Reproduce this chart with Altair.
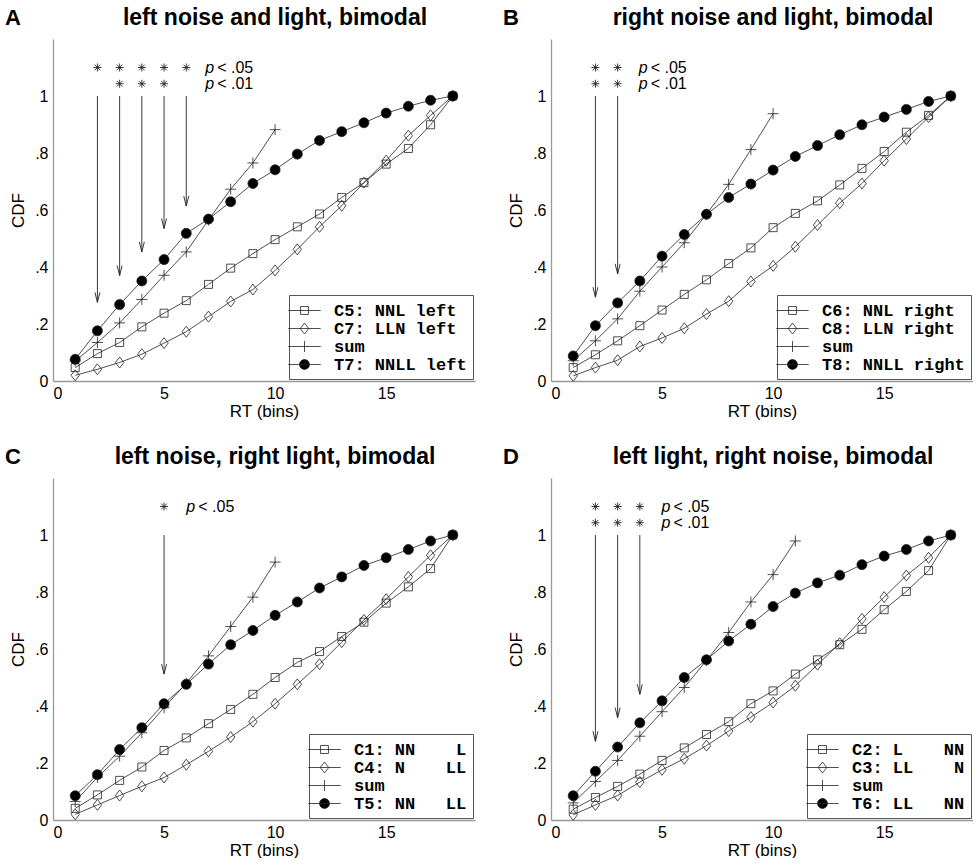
import altair as alt
import pandas as pd

BINS = list(range(1, 19))

# ---------------- data ----------------
A_LETTER, A_TITLE = "A", "left noise and light, bimodal"
A_LABELS = ["C5: NNL left", "C7: LLN left", "sum", "T7: NNLL left"]
A_C1 = [0.047, 0.096, 0.135, 0.19, 0.238, 0.282, 0.339, 0.396, 0.447, 0.496, 0.541, 0.586, 0.644, 0.696, 0.761, 0.816, 0.899, 1.0]
A_C2 = [0.02, 0.041, 0.065, 0.094, 0.133, 0.173, 0.226, 0.279, 0.321, 0.388, 0.462, 0.541, 0.615, 0.696, 0.773, 0.861, 0.932, 1.0]
A_SUM = [0.07, 0.135, 0.204, 0.286, 0.371, 0.453, 0.565, 0.673, 0.765, 0.882]
A_T = [0.076, 0.176, 0.268, 0.351, 0.426, 0.518, 0.568, 0.629, 0.693, 0.741, 0.796, 0.844, 0.875, 0.906, 0.94, 0.964, 0.985, 1.0]
A_ARROW_X = [2, 3, 4, 5, 6]
A_ARROW_TIP = [0.276, 0.37, 0.453, 0.535, 0.614]
A_SIG05 = [2, 3, 4, 5, 6]
A_SIG01 = [3, 4, 5]
A_PTEXT_X = 6.85

B_LETTER, B_TITLE = "B", "right noise and light, bimodal"
B_LABELS = ["C6: NNL right", "C8: LLN right", "sum", "T8: NNLL right"]
B_C1 = [0.047, 0.092, 0.141, 0.194, 0.249, 0.304, 0.355, 0.412, 0.467, 0.538, 0.588, 0.632, 0.688, 0.746, 0.805, 0.873, 0.932, 1.0]
B_C2 = [0.018, 0.047, 0.073, 0.121, 0.151, 0.185, 0.235, 0.28, 0.349, 0.404, 0.471, 0.547, 0.624, 0.693, 0.773, 0.849, 0.926, 1.0]
B_SUM = [0.071, 0.141, 0.218, 0.315, 0.4, 0.485, 0.585, 0.69, 0.812, 0.938]
B_T = [0.088, 0.194, 0.274, 0.351, 0.438, 0.514, 0.585, 0.644, 0.691, 0.74, 0.788, 0.826, 0.864, 0.899, 0.926, 0.953, 0.981, 1.0]
B_ARROW_X = [2, 3]
B_ARROW_TIP = [0.294, 0.376]
B_SIG05 = [2, 3]
B_SIG01 = [2, 3]
B_PTEXT_X = 3.95

NB = "\u00a0"
C_LETTER, C_TITLE = "C", "left noise, right light, bimodal"
C_LABELS = ["C1: NN" + NB * 4 + "L", "C4: N" + NB * 4 + "LL", "sum", "T5: NN" + NB * 3 + "LL"]
C_C1 = [0.041, 0.088, 0.139, 0.186, 0.244, 0.288, 0.338, 0.388, 0.441, 0.5, 0.553, 0.591, 0.644, 0.694, 0.761, 0.818, 0.882, 1.0]
C_C2 = [0.02, 0.053, 0.086, 0.118, 0.149, 0.194, 0.241, 0.291, 0.345, 0.408, 0.476, 0.547, 0.624, 0.702, 0.775, 0.853, 0.929, 1.0]
C_SUM = [0.065, 0.15, 0.224, 0.306, 0.394, 0.48, 0.576, 0.679, 0.782, 0.905]
C_T = [0.085, 0.159, 0.247, 0.324, 0.408, 0.476, 0.547, 0.615, 0.665, 0.718, 0.765, 0.814, 0.853, 0.893, 0.92, 0.949, 0.979, 1.0]
C_ARROW_X = [5]
C_ARROW_TIP = [0.512]
C_SIG05 = [5]
C_SIG01 = []
C_PTEXT_X = 6.0

D_LETTER, D_TITLE = "D", "left light, right noise, bimodal"
D_LABELS = ["C2: L" + NB * 4 + "NN", "C3: LL" + NB * 4 + "N", "sum", "T6: LL" + NB * 3 + "NN"]
D_C1 = [0.038, 0.079, 0.118, 0.161, 0.209, 0.253, 0.3, 0.345, 0.408, 0.453, 0.512, 0.562, 0.615, 0.669, 0.738, 0.802, 0.875, 1.0]
D_C2 = [0.018, 0.053, 0.086, 0.133, 0.176, 0.215, 0.261, 0.312, 0.361, 0.412, 0.471, 0.545, 0.62, 0.706, 0.782, 0.858, 0.92, 1.0]
D_SUM = [0.06, 0.135, 0.209, 0.294, 0.38, 0.465, 0.56, 0.658, 0.765, 0.861, 0.979]
D_T = [0.085, 0.171, 0.256, 0.341, 0.418, 0.5, 0.562, 0.628, 0.687, 0.749, 0.796, 0.832, 0.859, 0.896, 0.926, 0.949, 0.979, 1.0]
D_ARROW_X = [2, 3, 4]
D_ARROW_TIP = [0.276, 0.359, 0.441]
D_SIG05 = [2, 3, 4]
D_SIG01 = [2, 3, 4]
D_PTEXT_X = 4.97

ARROW_TOP = 1.0
SIG_ROWS = {"05": 1.1, "01": 1.043}

# ---------------- styling ----------------
W, H = 422, 342
INK = "#222222"
AXIS_GREY = "#999999"
FONT = "Liberation Sans"

SQ = "M-0.8,-0.8 L0.8,-0.8 L0.8,0.8 L-0.8,0.8 Z"
DIA = "M-0.84,0 L0,-1.1 L0.84,0 L0,1.1 Z"
PLUS = "M-1.1,0 L1.1,0 M0,-1.1 L0,1.1"
HEAD = "M-0.25,-1 L0,0 L0.25,-1"
AST = "M-0.8,0 L0.8,0 M0,-0.8 L0,0.8 M-0.57,-0.57 L0.57,0.57 M-0.57,0.57 L0.57,-0.57"

LL = "M-1.8,0 L1.8,0 "
L_SQ = LL + "M-0.44,-0.44 L0.44,-0.44 L0.44,0.44 L-0.44,0.44 Z"
L_DIA = LL + "M-0.47,0 L0,-0.61 L0.47,0 L0,0.61 Z"
L_PLUS = LL + "M0,-0.61 L0,0.61"
r, k = 0.55, 0.304
L_CIRC = LL + (f"M{r},0 C{r},{k} {k},{r} 0,{r} C-{k},{r} -{r},{k} -{r},0 "
               f"C-{r},-{k} -{k},-{r} 0,-{r} C{k},-{r} {r},-{k} {r},0 Z")

xs = alt.Scale(domain=[0, 19], nice=False, zero=False)
ys = alt.Scale(domain=[0, 1.2], nice=False)
xaxis = alt.Axis(values=[0, 5, 10, 15], title="RT (bins)")
yaxis = alt.Axis(values=[0, 0.2, 0.4, 0.6, 0.8, 1.0], title="CDF",
                 labelExpr="datum.value == 0 ? '0' : datum.value == 1 ? '1' : replace(format(datum.value, '.1f'), '0.', '.')")


def X(field):
    return alt.X(field, type="quantitative", scale=xs, axis=xaxis)


def Y(field):
    return alt.Y(field, type="quantitative", scale=ys, axis=yaxis)


def panel(letter, title, labels, c1, c2, s, t, ax, atip, sig05, sig01, ptx):
    rows = []
    for lab, vals in zip(labels, [c1, c2, s, t]):
        for b, v in zip(BINS, vals):
            rows.append({"bin": b, "cdf": v, "series": lab})
    df = pd.DataFrame(rows)

    lines = alt.Chart(df).mark_line(color=INK, strokeWidth=0.8).encode(
        x=X("bin"), y=Y("cdf"), detail="series:N", order="bin:Q")

    pts = alt.Chart(df).mark_point(filled=True, size=100, stroke=INK, strokeWidth=0.8, opacity=1).encode(
        x=X("bin"), y=Y("cdf"),
        shape=alt.Shape("series:N", scale=alt.Scale(domain=labels, range=[SQ, DIA, PLUS, "circle"]), legend=None),
        fill=alt.Fill("series:N", scale=alt.Scale(domain=labels, range=["transparent", "transparent", "transparent", "black"]), legend=None),
    )

    leg = alt.Legend(title=None, orient="bottom-right", offset=2, padding=6,
                     strokeColor="#555555", fillColor="white",
                     labelFont="Liberation Mono", labelFontWeight="bold", labelFontSize=17,
                     labelColor="black", labelLimit=400, labelOffset=20,
                     symbolSize=324, symbolOpacity=1, symbolStrokeWidth=0.8,
                     rowPadding=0)
    legend_layer = alt.Chart(df).mark_point(filled=True, opacity=0, stroke=INK, strokeWidth=0.8).encode(
        x=X("bin"), y=Y("cdf"),
        shape=alt.Shape("series:N", scale=alt.Scale(domain=labels, range=[L_SQ, L_DIA, L_PLUS, L_CIRC]), legend=leg),
        fill=alt.Fill("series:N", scale=alt.Scale(domain=labels, range=["transparent", "transparent", "transparent", "black"]), legend=leg),
    )

    adf = pd.DataFrame({"bin": ax, "tip": atip, "top": [ARROW_TOP] * len(ax)})
    rules = alt.Chart(adf).mark_rule(color=INK, strokeWidth=0.9).encode(
        x=X("bin"), y=Y("top"), y2="tip:Q")
    heads = alt.Chart(adf).mark_point(shape=HEAD, size=400, filled=False, stroke=INK,
                                      strokeWidth=0.9, opacity=1).encode(x=X("bin"), y=Y("tip"))

    sdf = pd.DataFrame({"bin": list(sig05) + list(sig01),
                        "lev": [SIG_ROWS["05"]] * len(sig05) + [SIG_ROWS["01"]] * len(sig01)})
    stars = alt.Chart(sdf).mark_point(shape=AST, size=100, filled=False, stroke=INK,
                                      strokeWidth=0.9, opacity=1).encode(x=X("bin"), y=Y("lev"))

    ptxt = ["<" + NB + ".05"] + (["<" + NB + ".01"] if len(sig01) else [])
    pdf = pd.DataFrame({"px": [ptx] * len(ptxt), "lev": [SIG_ROWS["05"], SIG_ROWS["01"]][:len(ptxt)],
                        "txt": ptxt, "p": ["p"] * len(ptxt)})
    p_it = alt.Chart(pdf).mark_text(fontStyle="italic", fontSize=16, font=FONT,
                                    align="left", baseline="middle", color="black").encode(
        x=X("px"), y=Y("lev"), text="p:N")
    p_rest = alt.Chart(pdf).mark_text(fontSize=16, font=FONT, align="left", baseline="middle",
                                      dx=12, color="black").encode(x=X("px"), y=Y("lev"), text="txt:N")

    head_df = pd.DataFrame({"l": [letter], "t": [title]})
    let = alt.Chart(head_df).mark_text(
        fontSize=22, fontWeight="bold", font=FONT, align="center", baseline="alphabetic",
        color="black").encode(x=alt.value(-40), y=alt.value(-14), text="l:N")
    ttl = alt.Chart(head_df).mark_text(
        fontSize=23, fontWeight="bold", font=FONT, align="center", baseline="alphabetic",
        color="black").encode(x=alt.value(W / 2 + 11), y=alt.value(-14), text="t:N")

    return alt.layer(lines, pts, legend_layer, rules, heads, stars, p_it, p_rest, let, ttl).resolve_scale(
        shape="independent", fill="independent"
    ).properties(width=W, height=H)


pa = panel(A_LETTER, A_TITLE, A_LABELS, A_C1, A_C2, A_SUM, A_T, A_ARROW_X, A_ARROW_TIP, A_SIG05, A_SIG01, A_PTEXT_X)
pb = panel(B_LETTER, B_TITLE, B_LABELS, B_C1, B_C2, B_SUM, B_T, B_ARROW_X, B_ARROW_TIP, B_SIG05, B_SIG01, B_PTEXT_X)
pc = panel(C_LETTER, C_TITLE, C_LABELS, C_C1, C_C2, C_SUM, C_T, C_ARROW_X, C_ARROW_TIP, C_SIG05, C_SIG01, C_PTEXT_X)
pd_ = panel(D_LETTER, D_TITLE, D_LABELS, D_C1, D_C2, D_SUM, D_T, D_ARROW_X, D_ARROW_TIP, D_SIG05, D_SIG01, D_PTEXT_X)

chart = alt.vconcat(
    alt.hconcat(pa, pb, spacing=28),
    alt.hconcat(pc, pd_, spacing=28),
    spacing=27,
).properties(
    padding={"left": 5, "top": 7, "right": 0, "bottom": 0}
).configure_view(stroke=None).configure_axis(
    domainColor=AXIS_GREY, domainWidth=1.3, grid=False, ticks=False, tickSize=0,
    labelFont=FONT, labelFontSize=16, labelColor="black",
    titleFont=FONT, titleFontSize=17, titleFontWeight="normal", titleColor="black",
).configure_axisY(labelPadding=5, titlePadding=7).configure_axisX(labelPadding=4, titlePadding=2)

chart.save("out.html", embed_options={"renderer": "svg", "actions": False})
